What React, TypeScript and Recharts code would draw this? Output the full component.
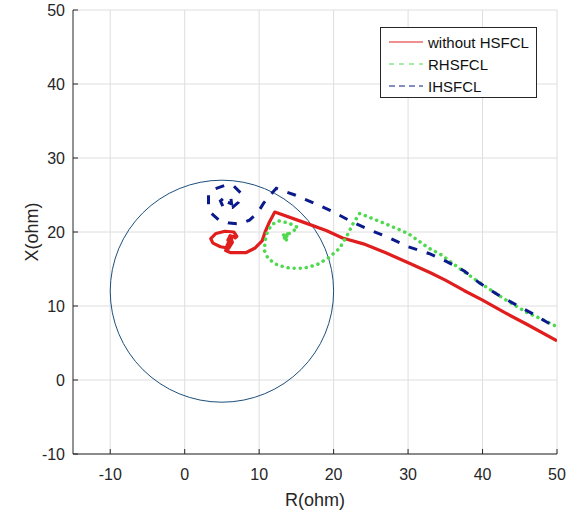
import { ScatterChart, Scatter, XAxis, YAxis, CartesianGrid, ReferenceDot, Legend } from "recharts";

const xTicks = [-10, 0, 10, 20, 30, 40, 50];
const yTicks = [-10, 0, 10, 20, 30, 40, 50];

// relay characteristic (mho circle)
const circleCenter = { x: 5, y: 12 };
const circleRadius = 15;

const withoutHsfcl = [
  { x: 6.0, y: 19.6 }, { x: 6.3, y: 19.0 }, { x: 5.8, y: 18.9 }, { x: 6.1, y: 19.5 },
  { x: 6.5, y: 19.4 }, { x: 6.8, y: 19.2 }, { x: 7.0, y: 19.4 }, { x: 6.6, y: 20.0 },
  { x: 5.4, y: 20.1 }, { x: 4.2, y: 19.8 }, { x: 3.5, y: 19.1 }, { x: 3.8, y: 18.5 },
  { x: 4.8, y: 18.0 }, { x: 5.9, y: 17.8 }, { x: 6.4, y: 18.6 }, { x: 6.2, y: 19.2 },
  { x: 5.7, y: 18.2 }, { x: 5.5, y: 17.5 }, { x: 6.2, y: 17.2 }, { x: 8.2, y: 17.2 },
  { x: 9.4, y: 17.8 }, { x: 10.4, y: 18.8 }, { x: 10.8, y: 20.0 }, { x: 11.4, y: 21.4 },
  { x: 12.1, y: 22.7 }, { x: 16, y: 21.3 }, { x: 19, y: 20.2 }, { x: 21.2, y: 19.2 },
  { x: 24, y: 18.4 }, { x: 27, y: 17.2 }, { x: 30.1, y: 15.8 }, { x: 33, y: 14.5 },
  { x: 35, y: 13.5 }, { x: 37.5, y: 12.1 }, { x: 40, y: 10.8 }, { x: 43, y: 9.1 },
  { x: 46, y: 7.5 }, { x: 50, y: 5.3 },
];

const rhsfcl = [
  { x: 13.4, y: 19.2 }, { x: 13.9, y: 19.7 }, { x: 13.2, y: 19.8 }, { x: 13.6, y: 18.9 },
  { x: 14.0, y: 19.3 }, { x: 13.5, y: 19.5 }, { x: 14.4, y: 20.0 }, { x: 15.2, y: 20.6 },
  { x: 14.0, y: 21.2 }, { x: 12.6, y: 21.5 }, { x: 11.7, y: 21.0 }, { x: 11.1, y: 20.0 },
  { x: 10.8, y: 18.8 }, { x: 10.7, y: 17.5 }, { x: 11.2, y: 16.4 }, { x: 12.5, y: 15.5 },
  { x: 14.2, y: 15.1 }, { x: 16, y: 15.1 }, { x: 17.8, y: 15.6 }, { x: 19.3, y: 16.5 },
  { x: 20.8, y: 17.8 }, { x: 21.8, y: 19.5 }, { x: 22.7, y: 21.3 }, { x: 23.5, y: 22.5 },
  { x: 27, y: 21.1 }, { x: 30, y: 19.8 }, { x: 32.8, y: 17.8 }, { x: 34.5, y: 16.9 },
  { x: 37, y: 15 }, { x: 40, y: 12.9 }, { x: 43, y: 10.9 }, { x: 46, y: 9.1 },
  { x: 48, y: 8.2 }, { x: 50, y: 7.2 },
];

const ihsfcl = [
  { x: 5.8, y: 24.0 }, { x: 6.3, y: 23.8 }, { x: 6.2, y: 24.6 }, { x: 5.5, y: 24.8 },
  { x: 4.8, y: 24.2 }, { x: 5.2, y: 23.3 }, { x: 6.4, y: 23.3 }, { x: 7.2, y: 24.0 },
  { x: 7.6, y: 25.2 }, { x: 6.6, y: 26.2 }, { x: 5.4, y: 26.3 }, { x: 4.0, y: 25.8 },
  { x: 3.2, y: 25.0 }, { x: 3.2, y: 23.5 }, { x: 3.6, y: 22.5 }, { x: 4.6, y: 21.6 },
  { x: 6.0, y: 21.2 }, { x: 7.4, y: 21.1 }, { x: 8.7, y: 21.6 }, { x: 9.8, y: 22.6 },
  { x: 10.6, y: 23.9 }, { x: 11.5, y: 25.0 }, { x: 12.3, y: 25.9 }, { x: 14.8, y: 25.0 },
  { x: 17.4, y: 23.9 }, { x: 20, y: 22.7 }, { x: 22.4, y: 21.4 }, { x: 24.8, y: 20.3 },
  { x: 27.5, y: 19.2 }, { x: 30, y: 18 }, { x: 32.8, y: 17.1 }, { x: 35.2, y: 16 },
  { x: 37.6, y: 14.7 }, { x: 39.6, y: 13.1 }, { x: 42.1, y: 11.5 }, { x: 44.6, y: 10.1 },
  { x: 47, y: 8.8 }, { x: 50, y: 7 },
];

const W = 566;
const H = 514;
const margin = { top: 10, right: 9, left: 0, bottom: 0 };
const yAxisW = 73;
const xAxisH = 60;
const plotW = W - margin.left - margin.right - yAxisW;
const plotH = H - margin.top - margin.bottom - xAxisH;

const frame = "#262626";
const tickFont = { fill: "#262626", fontSize: 16, fontFamily: "Liberation Sans, Arial, sans-serif" };

const series = [
  { name: "without HSFCL", color: "#e01e1e", dash: "", legendDash: "" },
  { name: "RHSFCL", color: "#4ed94e", dash: "0.1 6", legendDash: "5 5" },
  { name: "IHSFCL", color: "#0a1a8c", dash: "9 10", legendDash: "6 4" },
];

const noDot = () => <g />;

function CircleShape(props: any) {
  const rx = (circleRadius * plotW) / 65;
  const ry = (circleRadius * plotH) / 60;
  return <ellipse cx={props.cx} cy={props.cy} rx={rx} ry={ry} fill="none" stroke="#1d4f7c" strokeWidth={1} />;
}

function LegendBox() {
  return (
    <div
      style={{
        width: 155,
        height: 66,
        border: `1px solid ${frame}`,
        background: "#fff",
        fontFamily: "Liberation Sans, Arial, sans-serif",
        fontSize: 15,
        color: "#111",
        paddingTop: 3,
        boxSizing: "content-box",
      }}
    >
      {series.map((s) => (
        <div key={s.name} style={{ display: "flex", alignItems: "center", height: 22 }}>
          <svg width={47} height={10} style={{ flexShrink: 0 }}>
            <line x1={8} x2={42} y1={5} y2={5} stroke={s.color} strokeWidth={1} strokeDasharray={s.legendDash} />
          </svg>
          <span>{s.name}</span>
        </div>
      ))}
    </div>
  );
}

export default function App() {
  return (
    <div style={{ width: W, height: H, background: "#fff" }}>
      <style>{`body{margin:0}`}</style>
      <ScatterChart width={W} height={H} margin={margin}>
        <CartesianGrid stroke="#dedede" strokeWidth={1} horizontalValues={yTicks} verticalValues={xTicks} />
        <XAxis
          type="number"
          dataKey="x"
          domain={[-15, 50]}
          ticks={xTicks}
          allowDataOverflow
          height={xAxisH}
          axisLine={{ stroke: frame }}
          tickLine={{ stroke: frame }}
          tickSize={-5}
          tickMargin={20}
          tick={tickFont}
          label={{ value: "R(ohm)", position: "insideBottom", offset: 8, style: { fontSize: 18, fill: "#262626", fontFamily: "Liberation Sans, Arial, sans-serif" } }}
        />
        <XAxis
          xAxisId="top"
          orientation="top"
          type="number"
          domain={[-15, 50]}
          ticks={xTicks}
          allowDataOverflow
          height={0}
          axisLine={{ stroke: frame }}
          tickLine={{ stroke: frame }}
          tickSize={-5}
          tick={false}
        />
        <YAxis
          type="number"
          dataKey="y"
          domain={[-10, 50]}
          ticks={yTicks}
          allowDataOverflow
          width={yAxisW}
          axisLine={{ stroke: frame }}
          tickLine={{ stroke: frame }}
          tickSize={-5}
          tickMargin={13}
          tick={tickFont}
          label={{ value: "X(ohm)", angle: -90, position: "insideLeft", offset: 32, style: { textAnchor: "middle", fontSize: 18, fill: "#262626", fontFamily: "Liberation Sans, Arial, sans-serif" } }}
        />
        <YAxis
          yAxisId="right"
          orientation="right"
          type="number"
          domain={[-10, 50]}
          ticks={yTicks}
          allowDataOverflow
          width={0}
          axisLine={{ stroke: frame }}
          tickLine={{ stroke: frame }}
          tickSize={-5}
          tick={false}
        />
        <ReferenceDot x={circleCenter.x} y={circleCenter.y} r={1} shape={CircleShape} />
        <Scatter
          name={series[0].name}
          data={withoutHsfcl}
          fill={series[0].color}
          shape={noDot}
          line={{ stroke: series[0].color, strokeWidth: 3.2, strokeLinejoin: "round" }}
          isAnimationActive={false}
        />
        <Scatter
          name={series[1].name}
          data={rhsfcl}
          fill={series[1].color}
          shape={noDot}
          line={{ stroke: series[1].color, strokeWidth: 3.5, strokeDasharray: series[1].dash, strokeLinecap: "round" }}
          isAnimationActive={false}
        />
        <Scatter
          name={series[2].name}
          data={ihsfcl}
          fill={series[2].color}
          shape={noDot}
          line={{ stroke: series[2].color, strokeWidth: 3, strokeDasharray: series[2].dash }}
          isAnimationActive={false}
        />
        <Legend
          layout="vertical"
          align="center"
          verticalAlign="middle"
          content={() => <LegendBox />}
          wrapperStyle={{ position: "absolute", left: 380, top: 27, width: 157, height: 70 }}
        />
      </ScatterChart>
    </div>
  );
}
